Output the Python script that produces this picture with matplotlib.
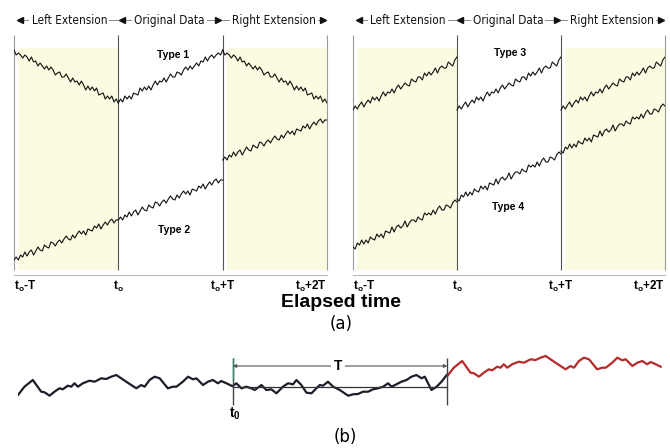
import numpy as np
import matplotlib
matplotlib.use("Agg")
import matplotlib.pyplot as plt
from matplotlib import font_manager

plt.rcParams['font.family'] = ['Liberation Sans', 'DejaVu Sans']
plt.rcParams['mathtext.fontset'] = 'custom'
plt.rcParams['mathtext.rm'] = 'Liberation Sans'
plt.rcParams['mathtext.it'] = 'Liberation Sans'
plt.rcParams['mathtext.bf'] = 'Liberation Sans:bold'

# ---- panel (a): original-data segments, one per type
type1 = [165, 169, 166, 172, 169, 172, 169, 175, 174, 173, 180, 177, 181, 178, 182, 178,
         183, 187, 183, 187, 186, 190, 186, 190, 194, 191, 191, 196, 195, 193, 198, 201,
         198, 202, 199, 202, 205, 202, 207, 206, 211, 207, 211, 213, 210, 213, 215, 213, 218]
type2 = [48, 51, 48, 53, 51, 56, 52, 56, 58, 53, 57, 61, 58, 57, 63, 61, 60, 66, 65, 62,
         66, 68, 65, 69, 72, 69, 68, 73, 70, 74, 77, 74, 77, 73, 79, 78, 77, 82, 80, 84,
         79, 83, 86, 83, 87, 89, 85, 88, 88]
type3 = [158, 162, 159, 163, 166, 161, 165, 168, 165, 171, 168, 171, 167, 172, 176, 172,
         176, 175, 179, 175, 180, 183, 179, 182, 185, 183, 182, 189, 187, 186, 191, 191,
         188, 195, 192, 196, 193, 196, 200, 195, 200, 202, 200, 200, 206, 204, 202, 208, 211]
type4 = [69, 67, 73, 71, 76, 72, 76, 73, 79, 77, 76, 82, 79, 82, 78, 85, 84, 83, 89, 84,
         89, 91, 88, 90, 95, 89, 93, 96, 96, 94, 99, 97, 96, 103, 101, 103, 101, 106, 102,
         107, 110, 106, 106, 111, 110, 108, 113, 116, 114]
type2_left_offset = -40
type2_right_offset = 60
type4_step = 48

tick_pos = [-1, 0, 1, 2]
tick_labels = [r'$\mathbf{t_o}$-T', r'$\mathbf{t_o}$', r'$\mathbf{t_o}$+T', r'$\mathbf{t_o}$+2T']
header_labels = ['Left Extension', 'Original Data', 'Right Extension']

# ---- panel (b): series before t0 and the original window
pre_t = [-1.000, -0.970, -0.931, -0.892, -0.876, -0.853, -0.830, -0.807, -0.791, -0.768,
         -0.752, -0.737, -0.721, -0.698, -0.667, -0.643, -0.612, -0.589, -0.566, -0.542,
         -0.496, -0.449, -0.426, -0.410, -0.387, -0.364, -0.340, -0.302, -0.278, -0.262,
         -0.232, -0.208, -0.185, -0.169, -0.138, -0.115, -0.092, -0.069, -0.053, -0.029, -0.006]
pre_v = [30.0, 38.3, 45.0, 33.3, 32.7, 29.3, 33.3, 36.7, 35.7, 39.3,
         38.3, 41.7, 38.3, 41.7, 44.3, 43.3, 46.7, 46.0, 48.3, 50.0,
         43.3, 36.7, 40.0, 38.3, 45.0, 48.3, 46.7, 36.7, 38.3, 38.3,
         43.3, 48.3, 45.7, 46.7, 40.0, 43.3, 45.0, 41.7, 44.0, 41.7, 39.3]
win_t = [0.000, 0.017, 0.041, 0.064, 0.087, 0.103, 0.134, 0.157, 0.180, 0.204,
         0.234, 0.258, 0.281, 0.297, 0.320, 0.344, 0.367, 0.390, 0.406, 0.421,
         0.444, 0.468, 0.499, 0.538, 0.561, 0.584, 0.607, 0.631, 0.654, 0.677,
         0.701, 0.724, 0.740, 0.763, 0.786, 0.810, 0.833, 0.856, 0.880, 0.895,
         0.926, 0.950, 0.973, 0.997]
win_v = [39.0, 41.7, 36.7, 38.3, 36.7, 35.0, 40.0, 35.0, 35.7, 31.7,
         38.3, 41.7, 40.7, 45.0, 40.0, 32.3, 31.7, 36.7, 40.0, 39.3,
         43.3, 38.3, 35.0, 29.3, 30.7, 31.0, 33.3, 33.3, 35.7, 36.7,
         38.3, 41.7, 38.3, 40.7, 43.3, 45.0, 48.3, 50.0, 46.7, 48.3,
         35.0, 38.3, 43.3, 50.0]
win_mean = 38
red_shift = 19

# narrow font for the header row if one is installed
fonts = font_manager.fontManager.ttflist
if any(f.name == 'Liberation Sans Narrow' for f in fonts):
    head_font = dict(family='Liberation Sans Narrow', fontsize=10.5)
elif any(f.name == 'DejaVu Sans' and f.stretch in ('condensed', 'semi-condensed') for f in fonts):
    head_font = dict(family='DejaVu Sans', fontstretch='condensed', fontsize=8.5)
else:
    head_font = dict(family='Liberation Sans', fontsize=8)

W, H = 670, 448
fig = plt.figure(figsize=(W / 100, H / 100), dpi=100)


def px_axes(x0, y0, x1, y1):
    return fig.add_axes([x0 / W, 1 - y1 / H, (x1 - x0) / W, (y1 - y0) / H])


yellow = '#fbfbe1'


def setup_panel(ax):
    ax.set_xlim(-1, 2)
    ax.set_ylim(-7, 268)
    for s in ['top', 'left', 'right']:
        ax.spines[s].set_visible(False)
    ax.spines['bottom'].set_color('#bbbbbb')
    ax.set_yticks([])
    ax.set_xticks(tick_pos)
    ax.set_xticklabels(tick_labels, fontsize=8.5, fontweight='bold')
    ax.tick_params(axis='x', length=0, pad=3)
    labs = ax.get_xticklabels()
    labs[0].set_ha('left')
    labs[-1].set_ha('right')
    ax.fill_between([-0.96, 0], -2, 220, color=yellow, lw=0)
    ax.fill_between([1.04, 2], -2, 220, color=yellow, lw=0)
    ax.vlines(tick_pos, -2, 233, colors=['#9a9a9a', '#555555', '#555555', '#9a9a9a'],
              lw=0.8, clip_on=False)
    # header row
    ax.plot([-0.93, 1.96], [248, 248], color='#8a8a8a', lw=0.7, clip_on=False)
    ax.plot([-0.945, 0.033], [248, 248], ls='none', marker='<', ms=5, color='#111111',
            clip_on=False)
    ax.plot([0.958, 1.965], [248, 248], ls='none', marker='>', ms=5, color='#111111',
            clip_on=False)
    for xc, lab in zip([-0.47, 0.49, 1.49], header_labels):
        ax.text(xc, 248, lab, ha='center', va='center', color='#111111',
                bbox=dict(facecolor='white', edgecolor='none', pad=1.5), **head_font)


t_seg = np.linspace(0, 1, len(type1))
line_kw = dict(color='#111111', lw=0.8)

ax1 = px_axes(14, 0, 327, 275)
setup_panel(ax1)
ax1.plot(t_seg - 1, type1[::-1], **line_kw)
ax1.plot(t_seg, type1, **line_kw)
ax1.plot(t_seg + 1, type1[::-1], **line_kw)
ax1.plot(t_seg - 1, np.array(type2) + type2_left_offset, **line_kw)
ax1.plot(t_seg, type2, **line_kw)
ax1.plot(t_seg + 1, np.array(type2) + type2_right_offset, **line_kw)
ax1.text(0.52, 213, 'Type 1', ha='center', va='center', fontsize=7.5, fontweight='bold')
ax1.text(0.53, 38, 'Type 2', ha='center', va='center', fontsize=7.5, fontweight='bold')

ax2 = px_axes(353, 0, 665, 275)
setup_panel(ax2)
for k in [-1, 0, 1]:
    ax2.plot(t_seg + k, type3, **line_kw)
    ax2.plot(t_seg + k, np.array(type4) + k * type4_step, **line_kw)
ax2.text(0.51, 215, 'Type 3', ha='center', va='center', fontsize=7.5, fontweight='bold')
ax2.text(0.49, 61, 'Type 4', ha='center', va='center', fontsize=7.5, fontweight='bold')

fig.text(341 / W, 1 - 302 / H, 'Elapsed time', ha='center', va='center', fontsize=14,
         fontweight='bold')
fig.text(341 / W, 1 - 324 / H, '(a)', ha='center', va='center', fontsize=12,
         family='DejaVu Sans')

# ---- panel (b)
axb = px_axes(18, 340, 662, 425)
axb.set_xlim(-1, 2)
axb.set_ylim(0, 85)
axb.axis('off')
axb.plot(pre_t, pre_v, color='#1d1d2a', lw=1.6, solid_joinstyle='round')
axb.plot(win_t, win_v, color='#1d1d2a', lw=1.6, solid_joinstyle='round')
axb.plot(np.array(pre_t) + 2, np.array(pre_v) + red_shift, color='#b72a2a', lw=1.6,
         solid_joinstyle='round')
axb.plot([0, 1], [win_mean, win_mean], color='#333333', lw=0.9)
axb.vlines([0, 1], 20, 67, color='#444444', lw=1.0)
axb.vlines(0, 45, 67, color='#2e8b6e', lw=1.0)
for xe in [0, 1]:
    axb.annotate('', xy=(xe, 59), xytext=(0.5, 59),
                 arrowprops=dict(arrowstyle='-|>', color='#555555', lw=0.8,
                                 mutation_scale=5, shrinkA=0, shrinkB=0))
axb.text(0.49, 59, 'T', ha='center', va='center', fontsize=10, fontweight='bold',
         bbox=dict(facecolor='white', edgecolor='none', pad=2))
axb.text(0.01, 11, r'$\mathbf{t_0}$', ha='center', va='center', fontsize=10)

fig.text(345 / W, 1 - 437 / H, '(b)', ha='center', va='center', fontsize=12,
         family='DejaVu Sans')

fig.savefig('out.png', dpi=100)
